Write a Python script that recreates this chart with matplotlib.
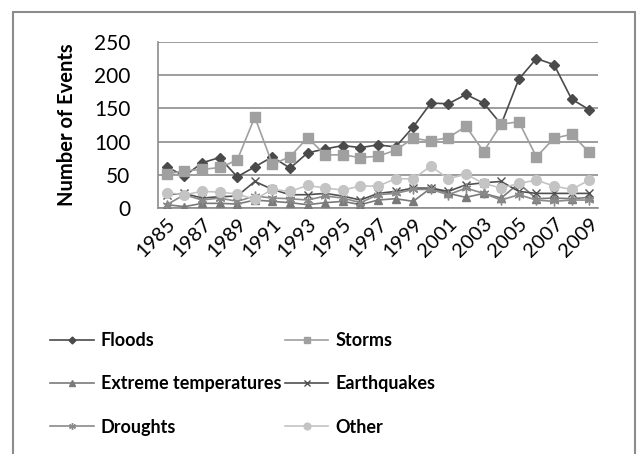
import numpy as np
import matplotlib.pyplot as plt
from matplotlib.patches import Rectangle

years = list(range(1985, 2010))

floods = [62, 48, 68, 76, 47, 62, 77, 60, 83, 89, 94, 91, 95, 92, 122,
          158, 157, 171, 158, 126, 194, 225, 216, 164, 148]
storms = [51, 56, 58, 61, 72, 137, 66, 77, 106, 80, 80, 76, 78, 87, 105,
          101, 106, 123, 85, 126, 130, 77, 105, 111, 84]
extreme_temps = [5, 2, 7, 7, 6, 12, 10, 8, 5, 8, 10, 5, 12, 14, 10,
                 30, 22, 16, 22, 15, 37, 14, 15, 14, 16]
earthquakes = [20, 22, 15, 17, 18, 40, 28, 20, 20, 22, 18, 12, 22, 25, 30,
               30, 25, 35, 38, 40, 25, 22, 22, 22, 22]
droughts = [5, 20, 12, 15, 10, 18, 15, 14, 12, 18, 15, 8, 20, 22, 28,
            28, 20, 30, 22, 12, 20, 12, 10, 12, 12]
other = [23, 20, 25, 24, 21, 13, 28, 25, 34, 30, 27, 33, 33, 44, 44,
         63, 44, 51, 37, 30, 37, 42, 33, 28, 42]

plt.rcParams['font.family'] = ['Lato', 'DejaVu Sans']

fig = plt.figure(figsize=(6.38, 4.54), dpi=100)
ax = fig.add_axes([158 / 638, 1 - 208 / 454, 440 / 638, 166 / 454])

# outer chart border (bottom edge falls outside the picture)
fig.patches.append(Rectangle((13 / 638, -0.05), 622 / 638, 1 - 12 / 454 + 0.05,
                             transform=fig.transFigure, fill=False,
                             edgecolor='#8c8c8c', linewidth=1.5))

series = [
    ('Floods', floods, 'D', '#4a4a4a', 5),
    ('Storms', storms, 's', '#a0a0a0', 7),
    ('Extreme temperatures', extreme_temps, '^', '#7a7a7a', 6),
    ('Earthquakes', earthquakes, 'x', '#505050', 6),
    ('Droughts', droughts, (6, 2, 0), '#8a8a8a', 7),
    ('Other', other, 'o', '#c4c4c4', 7),
]

for name, vals, mk, col, ms in series:
    ax.plot(years, vals, color=col, marker=mk, markersize=ms, linewidth=1.2,
            markeredgecolor=col, label=name, zorder=3)

ax.set_xlim(1984.5, 2009.5)
ax.set_ylim(0, 250)
ax.set_yticks(range(0, 251, 50))
ax.set_xticks(years[::2])
ax.set_xticklabels([str(y) for y in years[::2]], rotation=45, ha='right',
                   rotation_mode='anchor', fontsize=14.5)
ax.tick_params(axis='y', labelsize=15, length=0, pad=20)
ax.tick_params(axis='x', length=0, pad=5)
ax.grid(axis='y', color='#8c8c8c', linewidth=1.2)
ax.set_axisbelow(True)
for s in ['top', 'right']:
    ax.spines[s].set_visible(False)
ax.spines['left'].set_color('#8c8c8c')
ax.spines['bottom'].set_color('#8c8c8c')
ax.spines['left'].set_linewidth(1.2)
ax.spines['bottom'].set_linewidth(1.2)

ax.set_ylabel('Number of Events', fontsize=14.5, fontweight='bold', labelpad=12)

handles, labels = ax.get_legend_handles_labels()
# legend fills row by row, matplotlib fills column first -> reorder
order = [0, 2, 4, 1, 3, 5]
fig.legend([handles[i] for i in order], [labels[i] for i in order],
           loc='upper left', bbox_to_anchor=(34 / 638, 1 - 316 / 454),
           ncol=2, frameon=False, handlelength=2.4, columnspacing=0.2,
           labelspacing=1.45, handletextpad=0.4, markerscale=0.7,
           prop={'size': 13, 'weight': 'bold'})

fig.savefig('out.png', dpi=100)
